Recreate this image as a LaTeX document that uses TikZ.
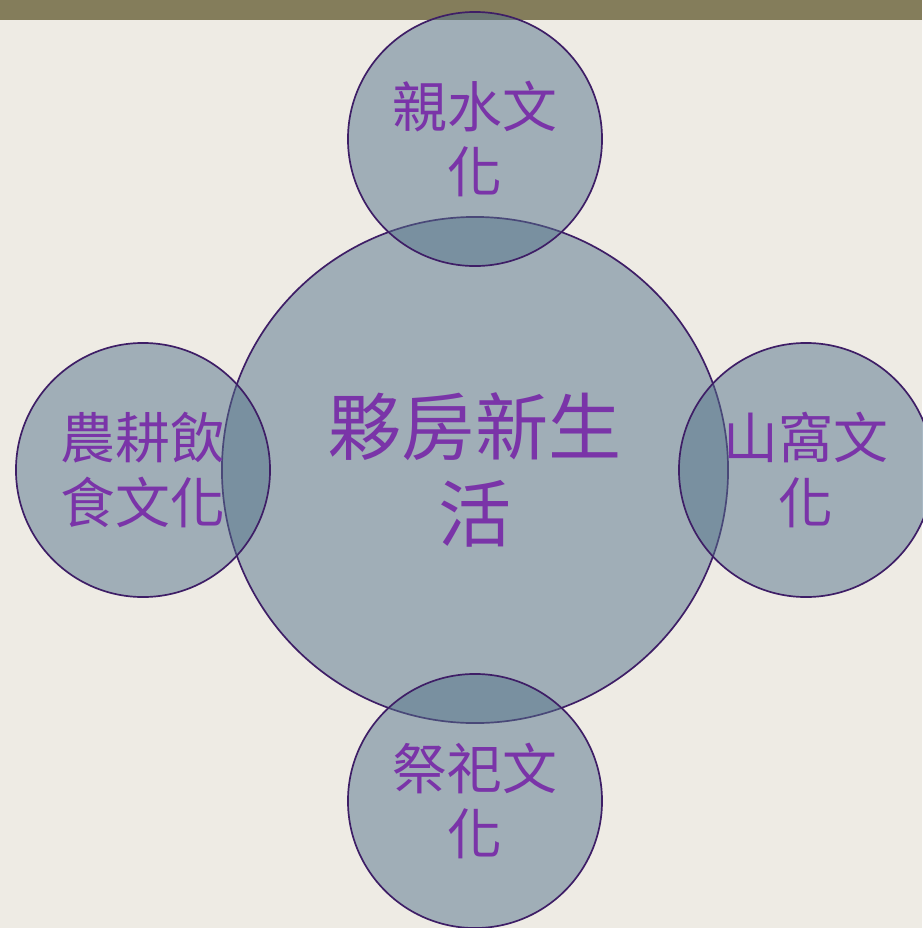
\documentclass[tikz,border=0pt]{standalone}
\usepackage{fontspec}
\newfontfamily\cjk{Noto Sans CJK TC}
\usepackage{tikz}

\definecolor{paper}{RGB}{238,235,228}
\definecolor{band}{RGB}{132,125,91}
\definecolor{disc}{RGB}{84,115,139}
\definecolor{rim}{RGB}{62,30,102}
\definecolor{ink}{RGB}{122,52,168}

\tikzset{
	bubble/.style={circle, draw=rim, line width=1.2pt, fill=disc, fill opacity=0.5,
		text opacity=1, text=ink, inner sep=0pt, align=center, minimum size=6.35cm,
		font=\cjk\fontsize{39}{46}\selectfont},
	hub/.style={bubble, minimum size=12.65cm, font=\cjk\fontsize{52}{62}\selectfont}
}

\begin{document}
\begin{tikzpicture}[x=0.025cm,y=-0.025cm]
		\fill[paper] (0,0) rectangle (922,928);
		\useasboundingbox (0,0) rectangle (922,928);
		\fill[band] (0,0) rectangle (922,20);
		\node[hub] (life) at (475,470) {夥房新生\\活};
		\node[bubble] (water) at (475,139) {親水文\\化};
		\node[bubble] (farm) at (143,470) {農耕飲\\食文化};
		\node[bubble] (hill) at (806,470) {山窩文\\化};
%		\node[bubble] (rite) at (475,800) {};
		\node[bubble] (rite) at (475,801) {祭祀文\\化};
	\end{tikzpicture}
\end{document}
